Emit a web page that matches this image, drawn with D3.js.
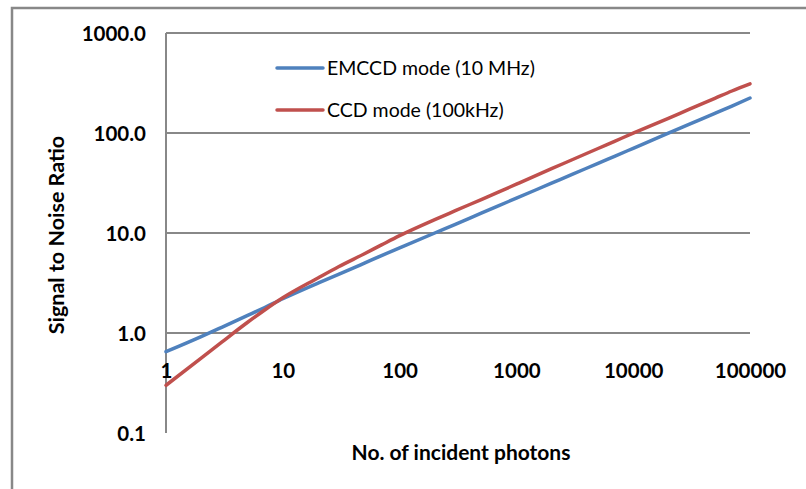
<!DOCTYPE html>
<html>
<head>
<meta charset="utf-8">
<script src="https://cdn.jsdelivr.net/npm/d3@7"></script>
<style>
body{margin:0;background:#fff;}
svg{display:block;}
.lbl{font-family:Lato,"Liberation Sans",sans-serif;font-weight:bold;fill:#000;}
</style>
</head>
<body>
<svg id="chart"></svg>
<script>
// values
var photons = [1, 2, 3, 5, 7, 10, 20, 30, 50, 70, 100, 200, 300, 500, 700, 1000, 2000, 3000, 5000, 7000, 10000, 20000, 30000, 50000, 70000, 100000];
var emccd = [0.65, 0.92, 1.14, 1.5, 1.8, 2.2, 3.15, 3.85, 5.0, 5.95, 7.1, 10.0, 12.2, 15.8, 18.7, 22.3, 31.5, 38.5, 49.8, 58.8, 70.3, 99.5, 122, 157, 186, 224];
var ccd = [0.30, 0.56, 0.81, 1.28, 1.7, 2.25, 3.55, 4.6, 6.2, 7.6, 9.4, 13.6, 16.7, 21.6, 25.6, 30.8, 44.0, 54.0, 70.0, 83.0, 99.5, 140, 172, 222, 263, 310];
var seriesNames = ['EMCCD mode (10 MHz)', 'CCD mode (100kHz)'];
var seriesColors = ['#4F81BD', '#C0504D'];
var xTicks = [1, 10, 100, 1000, 10000, 100000];
var yTicks = [0.1, 1, 10, 100, 1000];

var width = 806, height = 489;
var plot = {left:166, right:750, top:33, bottom:433};

var svg = d3.select('#chart').attr('width', width).attr('height', height);

// outer chart border (only top and left visible in the picture)
svg.append('path')
	.attr('d', 'M12,' + height + 'V8H' + width)
	.style('fill', 'none')
	.style('stroke', '#888')
	.style('stroke-width', 2.5);

var xScale = d3.scaleLog().domain([1, 100000]).range([plot.left, plot.right]);
var yScale = d3.scaleLog().domain([0.1, 1000]).range([plot.bottom, plot.top]);

// gridlines
svg.append('g').selectAll('line')
	.data(yTicks.slice(1))
	.enter().append('line')
	.attr('x1', plot.left).attr('x2', plot.right)
	.attr('y1', function(d){ return yScale(d); })
	.attr('y2', function(d){ return yScale(d); })
	.style('stroke', '#888')
	.style('stroke-width', 2);

// vertical axis line
svg.append('line')
	.attr('x1', plot.left).attr('x2', plot.left)
	.attr('y1', plot.top).attr('y2', plot.bottom)
	.style('stroke', '#888')
	.style('stroke-width', 2);

// y axis labels
var axisY = d3.axisLeft(yScale).tickValues(yTicks).tickSize(0).tickPadding(20).tickFormat(d3.format('.1f'));
var axisYG = svg.append('g').attr('transform', 'translate(' + plot.left + ',0)').call(axisY);
axisYG.select('.domain').remove();
axisYG.selectAll('text').attr('class', 'lbl').style('font-size', '20.5px').attr('dy', '0.35em');

// x axis labels, axis crosses at 1.0
var axisX = d3.axisBottom(xScale).tickValues(xTicks).tickSize(0).tickPadding(30).tickFormat(d3.format('d'));
var axisXG = svg.append('g').attr('transform', 'translate(0,' + yScale(1) + ')').call(axisX);
axisXG.select('.domain').remove();
axisXG.selectAll('text').attr('class', 'lbl').style('font-size', '20.5px').attr('dy', '0.35em').attr('y', 38);

// series lines
var line = d3.line()
	.curve(d3.curveMonotoneX)
	.x(function(d){ return xScale(d[0]); })
	.y(function(d){ return yScale(d[1]); });
[emccd, ccd].forEach(function(vals, i){
	svg.append('path')
		.datum(photons.map(function(p, j){ return [p, vals[j]]; }))
		.attr('d', line)
		.style('fill', 'none')
		.style('stroke', seriesColors[i])
		.style('stroke-width', 3.5)
		.style('stroke-linecap', 'round')
		.style('stroke-linejoin', 'round');
});

// legend
var legend = svg.append('g').attr('transform', 'translate(277,68)');
seriesNames.forEach(function(name, i){
	var g = legend.append('g').attr('transform', 'translate(0,' + (i * 42) + ')');
	g.append('line').attr('x1', 0).attr('x2', 46)
		.style('stroke', seriesColors[i]).style('stroke-width', 3.5).style('stroke-linecap', 'round');
	g.append('text').attr('x', 50).attr('dy', '0.35em')
		.attr('class', 'lbl').style('font-weight', 'normal').style('font-size', '19.5px')
		.text(name);
});

// axis titles
svg.append('text').attr('class', 'lbl')
	.attr('x', 461).attr('y', 453).attr('dy', '0.35em')
	.attr('text-anchor', 'middle').style('font-size', '21px')
	.text('No. of incident photons');
svg.append('text').attr('class', 'lbl')
	.attr('transform', 'translate(56,235) rotate(-90)').attr('dy', '0.35em')
	.attr('text-anchor', 'middle').style('font-size', '21.5px')
	.text('Signal to Noise Ratio');
</script>
</body>
</html>
